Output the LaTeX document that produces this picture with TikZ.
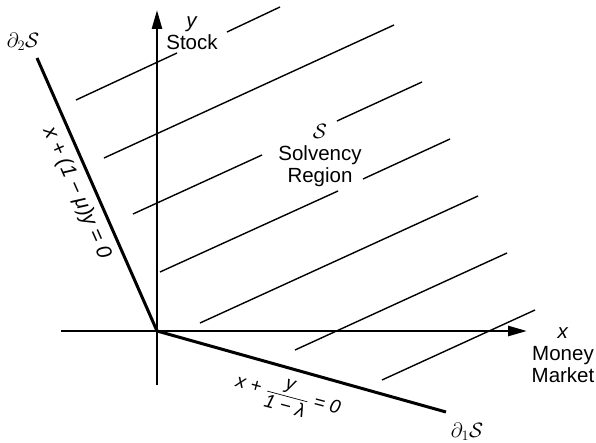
\documentclass[tikz,border=0pt]{standalone}
\usepackage{amsmath}
\usepackage{fontspec}
\setmainfont{Liberation Sans}
\usetikzlibrary{arrows.meta,positioning}
\tikzset{
  axis/.style={line width=2.6pt,-{Triangle[length=19pt,width=10pt]}},
  bdry/.style={line width=3pt},
  hatch/.style={line width=1.4pt},
  lbl/.style={font=\fontsize{20.5}{22}\selectfont,align=center,inner sep=0pt},
  eqn/.style={lbl,font=\fontsize{19}{22}\selectfont\itshape},
}

\begin{document}
\begin{tikzpicture}[x=1pt,y=-1pt]
    \useasboundingbox (0,0) rectangle (596,443);
    \coordinate (O) at (157,331);
    \coordinate (xs) at (61,331);
    \coordinate (xe) at (527,331);
    \coordinate (ys) at (157,385);
    \coordinate (ye) at (157,10);
    \coordinate (b2) at (37,58);
    \coordinate (b1) at (446,412);
    % hatching of the solvency region
    \foreach \xa/\ya/\xb/\yb in {76/100/177/53, 227/32/280/7, 104/158/394/25,
        133/214/262/155, 337/121/422/82, 160/272/338/191, 363/179/450/139,
        200/323/478/196, 295/350/507/253, 382/380/535/310}
      \draw[hatch] (\xa,\ya) -- (\xb,\yb);
    % axes and boundaries
    \draw[axis] (xs) -- (xe);
    \draw[axis] (ys) -- (ye);
    \draw[bdry] (O) -- (b2);
    \draw[bdry] (O) -- (b1);
    % labels
    \node[lbl] (stock) at (192,33) {\textit{y}\\Stock};
    \node[lbl] (money) at (563,355) {\textit{x}\\Money\\Market};
    \node[lbl] (solv) at (320,156) {$\mathcal{S}$\\Solvency\\Region};
    \node[lbl] (d2) at (23,42) {$\partial_2\mathcal{S}$};
    \node[lbl] (d1) at (467,432) {$\partial_1\mathcal{S}$};
    \node[eqn,font=\fontsize{21}{22}\selectfont\itshape,rotate=-66.3] (eq2) at (77,193) {x + (1 − μ)y = 0};
    \node[eqn,rotate=-15] (eq1) at (288,396) {x + $\dfrac{\text{\itshape y}}{\text{\itshape 1 − λ}}$ = 0};
\end{tikzpicture}
\end{document}
